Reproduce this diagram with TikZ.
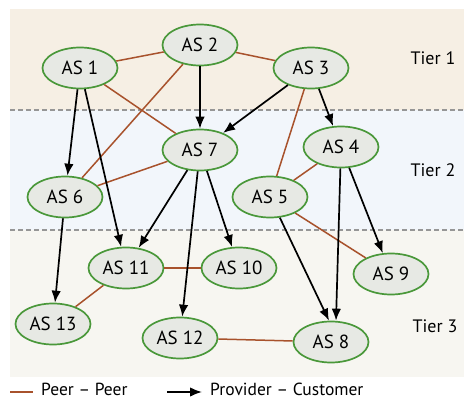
\documentclass[tikz,border=0pt]{standalone}
\usepackage{fontspec}
\setmainfont{PT Sans}
\usetikzlibrary{arrows.meta,shapes.geometric}

\definecolor{tieronebg}{RGB}{246,239,228}
\definecolor{tiertwobg}{RGB}{242,246,251}
\definecolor{tierthreebg}{RGB}{247,246,241}
\definecolor{asfill}{RGB}{231,233,228}
\definecolor{asgreen}{RGB}{74,152,58}
\definecolor{peerbrown}{RGB}{168,82,44}
\definecolor{tierline}{RGB}{150,150,150}

\begin{document}
\begin{tikzpicture}[x=1pt,y=-1pt,->,>={Latex[length=12pt,width=9.5pt]},
    as/.style={ellipse,draw=asgreen,line width=1.7pt,fill=asfill,
      minimum width=75pt,minimum height=41pt,inner sep=0pt,
      font=\fontsize{19}{19}\selectfont},
    peer/.style={-,draw=peerbrown,line width=1.5pt},
    prov/.style={->,draw=black,line width=1.7pt},
    tier/.style={font=\fontsize{18}{18}\selectfont},
    legend/.style={anchor=west,inner sep=0pt,font=\fontsize{17.5}{17.5}\selectfont}]

  \useasboundingbox (0,0) rectangle (464,399);
  \fill[tieronebg] (10,9) rectangle (464,110);
  \fill[tiertwobg] (10,110) rectangle (464,230);
  \fill[tierthreebg] (10,230) rectangle (464,377);
  \draw[-,tierline,line width=1.4pt,dash pattern=on 5pt off 3pt] (10,110) -- (464,110);
  \draw[-,tierline,line width=1.4pt,dash pattern=on 5pt off 3pt] (10,230) -- (464,230);

  \node[as] (as1) at (80,68) {AS 1};
  \node[as] (as2) at (200,45) {AS 2};
  \node[as] (as3) at (311,68) {AS 3};
  \node[as] (as7) at (200,150) {AS 7};
  \node[as] (as4) at (341,147) {AS 4};
  \node[as] (as6) at (65,197) {AS 6};
  \node[as] (as5) at (270,197) {AS 5};
  \node[as] (as11) at (126,268) {AS 11};
  \node[as] (as10) at (239,268) {AS 10};
  \node[as] (as9) at (391,274) {AS 9};
  \node[as] (as13) at (53,324) {AS 13};
  \node[as] (as12) at (180,338) {AS 12};
  \node[as] (as8) at (331,342) {AS 8};

  \node[tier] (tier1) at (433,58) {Tier 1};
  \node[tier] (tier2) at (433,170) {Tier 2};
  \node[tier] (tier3) at (435,326) {Tier 3};

  \draw
  (as1) edge[peer] (as2)
  (as2) edge[peer] (as3)
  (as2) edge[peer] (as6)
  (as1) edge[peer] (as7)
  (as7) edge[peer] (as6)
  (as3) edge[peer] (as5)
  (as4) edge[peer] (as5)
  (as5) edge[peer] (as9)
  (as11) edge[peer] (as10)
  (as11) edge[peer] (as13)
  (as12) edge[peer] (as8);

  \draw
  (as2) edge[prov] (as7)
  (as3) edge[prov] (as7)
  (as3) edge[prov] (as4)
  (as1) edge[prov] (as6)
  (as1) edge[prov] (as11)
  (as7) edge[prov] (as11)
  (as7) edge[prov] (as12)
  (as7) edge[prov] (as10)
  (as6) edge[prov] (as13)
  (as5) edge[prov] ([xshift=-2pt]as8.north)
  (as4) edge[prov] ([xshift=5pt]as8.north)
  (as4) edge[prov] (as9);

  \coordinate (peerstart) at (10,392);
  \coordinate (peerend) at (33,392);
  \coordinate (provstart) at (167,392);
  \coordinate (provend) at (202,392);
  \node[legend] (peerlabel) at (41,389) {Peer – Peer};
  \node[legend] (provlabel) at (210,389) {Provider – Customer};
  \draw[peer] (peerstart) -- (peerend);
  \draw[prov] (provstart) -- (provend);

\end{tikzpicture}
\end{document}
